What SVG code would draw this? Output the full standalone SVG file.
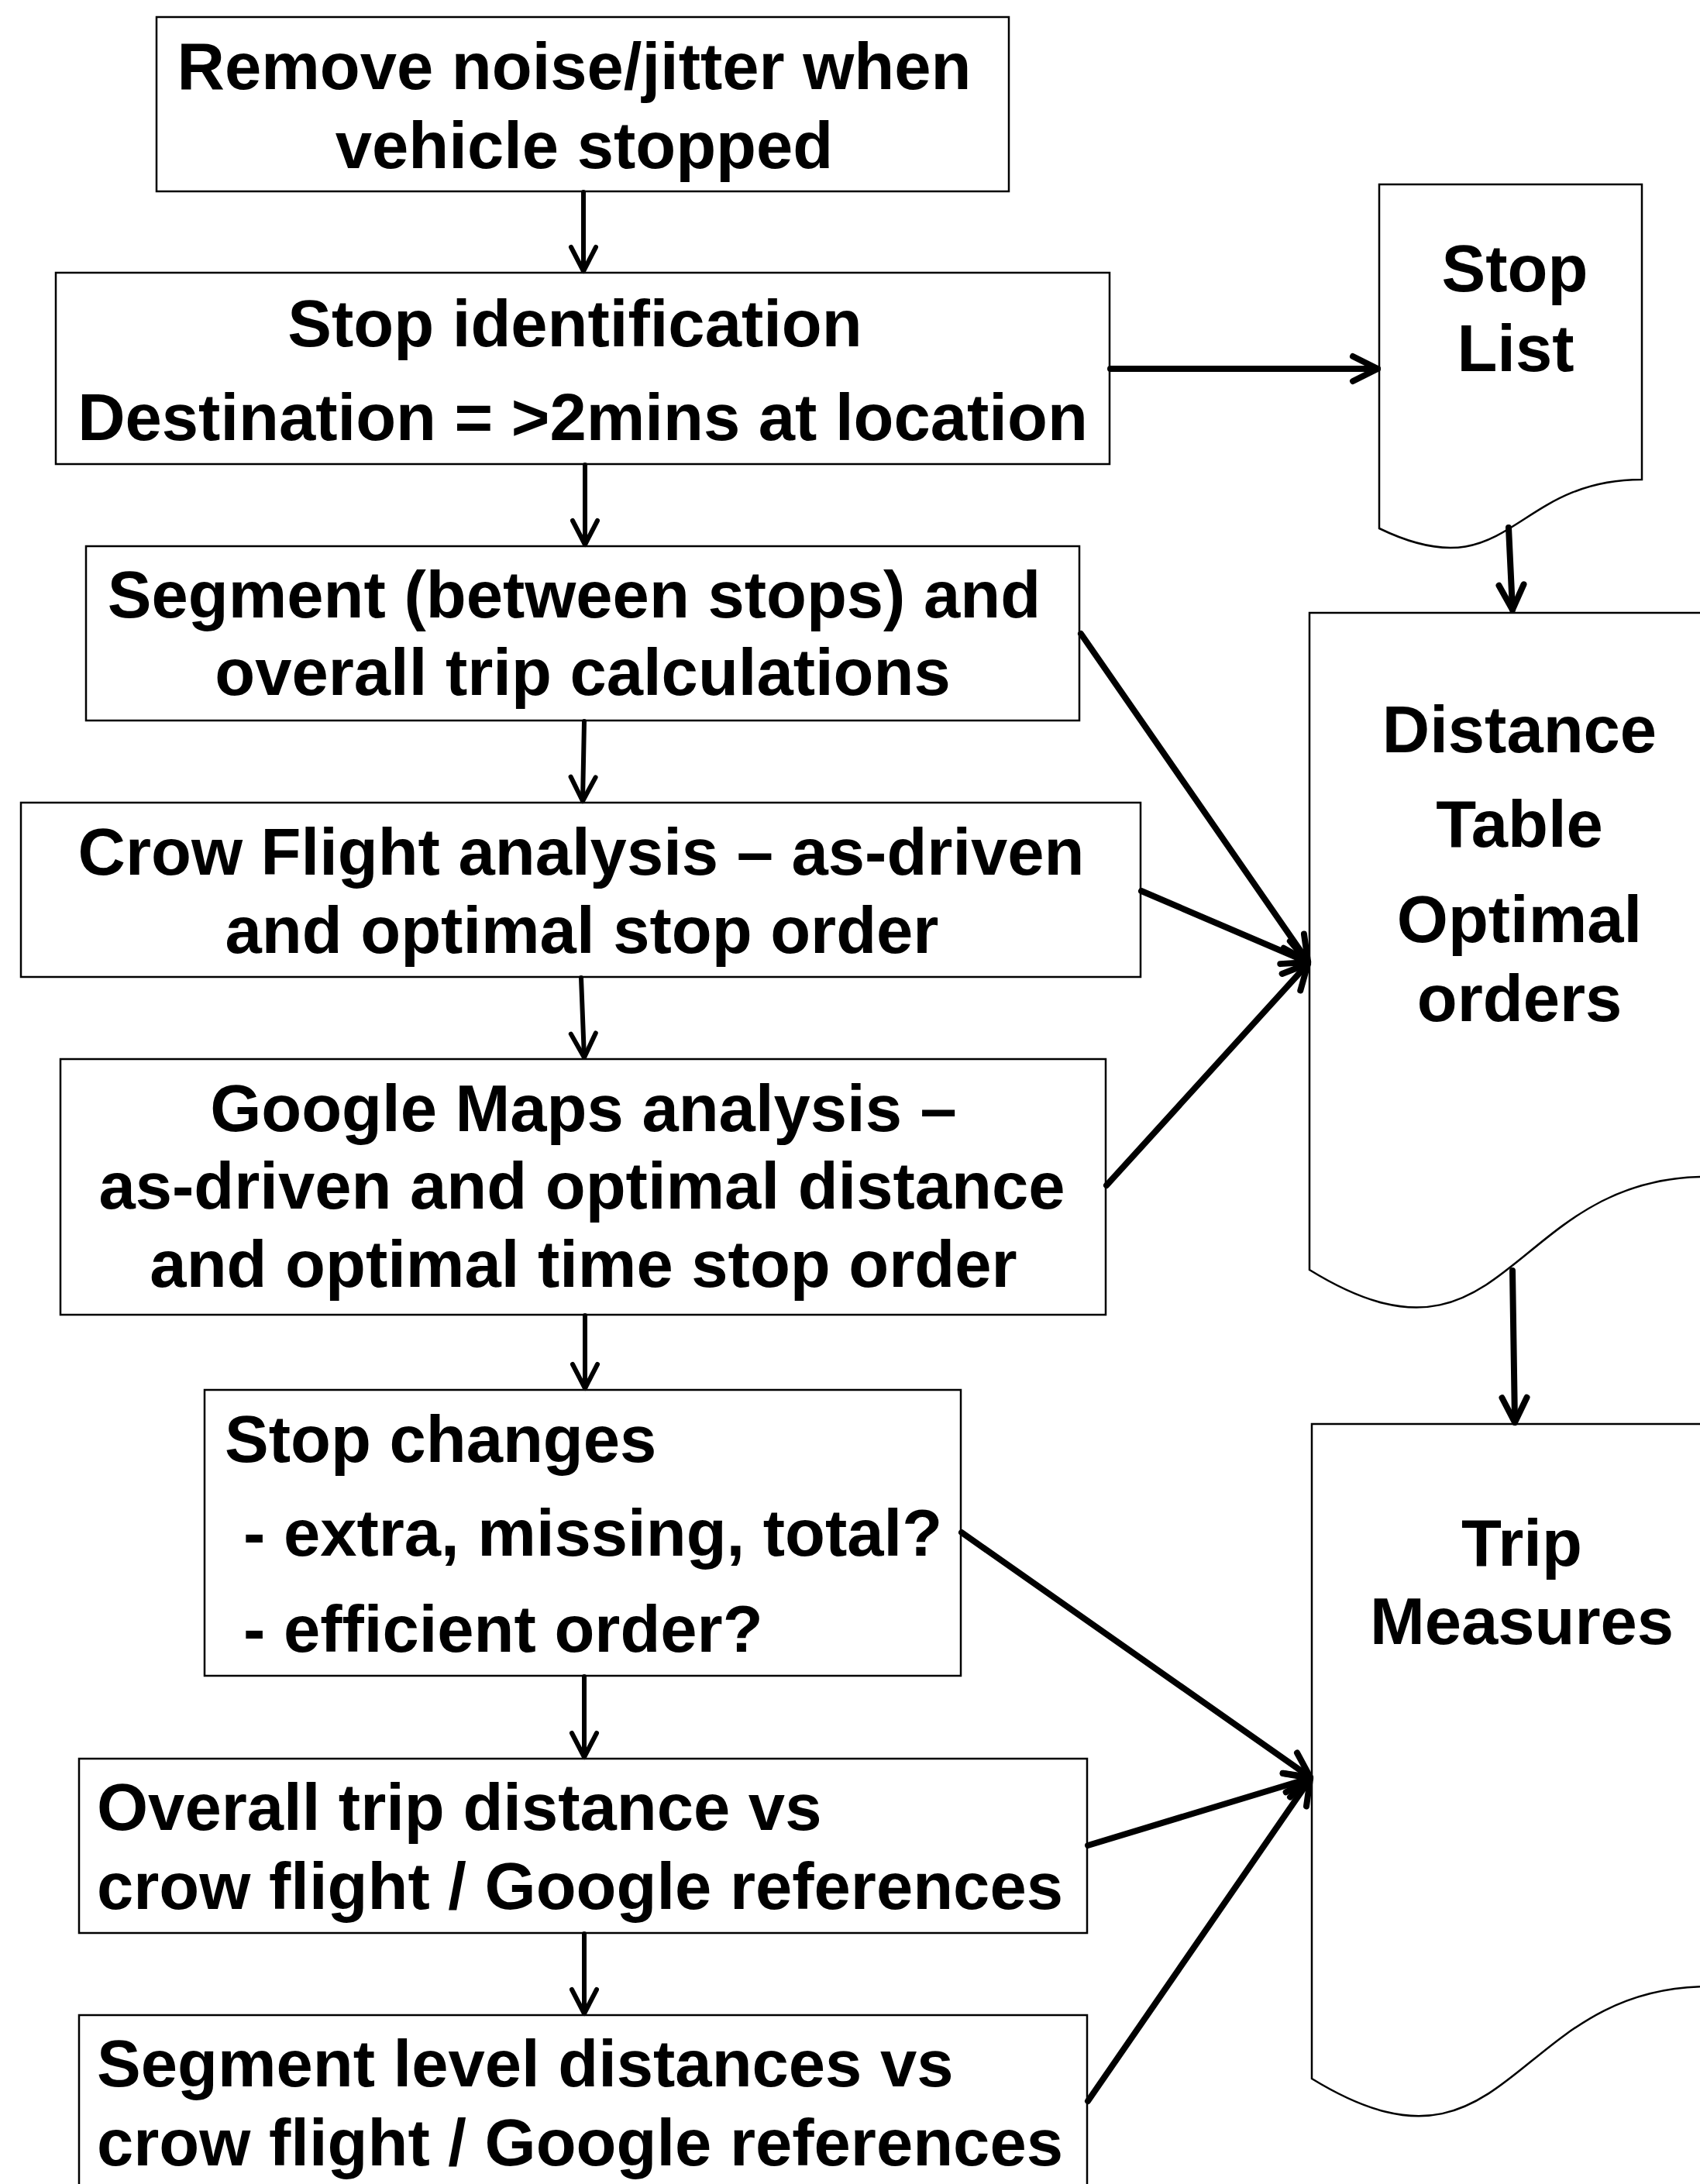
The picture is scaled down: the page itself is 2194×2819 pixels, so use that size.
<svg xmlns="http://www.w3.org/2000/svg" width="2194" height="2819" viewBox="0 0 2194 2819">
  <style>
    .box { fill: #fff; stroke: #000; stroke-width: 2.5; }
    .doc { fill: #fff; stroke: #000; stroke-width: 2.5; stroke-linejoin: miter; }
    .lbl { font-family: "Liberation Sans", Arial, sans-serif; font-weight: bold; font-size: 85px; fill: #000; }
    .mid { text-anchor: middle; }
    .flow { fill: none; stroke: #000; stroke-width: 6; stroke-linecap: round; }
    .feed { fill: none; stroke: #000; stroke-width: 8; stroke-linecap: round; }
  </style>
  <defs>
    <marker id="headThin" markerUnits="userSpaceOnUse" viewBox="-40 -24 48 48" refX="0" refY="0" markerWidth="48" markerHeight="48" orient="auto" overflow="visible">
      <path d="M-31,-16 L0,0 L-31,16" fill="none" stroke="#000" stroke-width="6" stroke-linecap="round" stroke-linejoin="round"/>
    </marker>
    <marker id="headThick" markerUnits="userSpaceOnUse" viewBox="-40 -24 48 48" refX="0" refY="0" markerWidth="48" markerHeight="48" orient="auto" overflow="visible">
      <path d="M-32,-16 L0,0 L-32,16" fill="none" stroke="#000" stroke-width="8" stroke-linecap="round" stroke-linejoin="round"/>
    </marker>
  </defs>

  <rect x="0" y="0" width="2194" height="2819" fill="#fff"/>

  <!-- process steps -->
  <g id="remove-noise">
    <rect class="box" x="202" y="22" width="1100" height="225"/>
    <text class="lbl mid" x="741" y="115">Remove noise/jitter when</text>
    <text class="lbl mid" x="754" y="217">vehicle stopped</text>
  </g>

  <g id="stop-identification">
    <rect class="box" x="72" y="352" width="1360" height="247"/>
    <text class="lbl mid" x="742" y="447">Stop identification</text>
    <text class="lbl mid" x="752" y="568">Destination = &gt;2mins at location</text>
  </g>

  <g id="segment-calcs">
    <rect class="box" x="111" y="705" width="1282" height="225"/>
    <text class="lbl mid" x="741" y="797">Segment (between stops) and</text>
    <text class="lbl mid" x="752" y="897">overall trip calculations</text>
  </g>

  <g id="crow-flight">
    <rect class="box" x="27" y="1036" width="1445" height="225"/>
    <text class="lbl mid" x="750" y="1129">Crow Flight analysis – as-driven</text>
    <text class="lbl mid" x="751" y="1230">and optimal stop order</text>
  </g>

  <g id="google-maps">
    <rect class="box" x="78" y="1367" width="1349" height="330"/>
    <text class="lbl mid" x="753" y="1460">Google Maps analysis –</text>
    <text class="lbl mid" x="751" y="1560">as-driven and optimal distance</text>
    <text class="lbl mid" x="753" y="1661">and optimal time stop order</text>
  </g>

  <g id="stop-changes">
    <rect class="box" x="264" y="1794" width="976" height="369"/>
    <text class="lbl" x="290" y="1887">Stop changes</text>
    <text class="lbl" x="314" y="2008">- extra, missing, total?</text>
    <text class="lbl" x="314" y="2132">- efficient order?</text>
  </g>

  <g id="overall-distance">
    <rect class="box" x="102" y="2270" width="1301" height="225"/>
    <text class="lbl" x="125" y="2362">Overall trip distance vs</text>
    <text class="lbl" x="125" y="2464">crow flight / Google references</text>
  </g>

  <g id="segment-distances">
    <rect class="box" x="102" y="2601" width="1301" height="260"/>
    <text class="lbl" x="125" y="2693">Segment level distances vs</text>
    <text class="lbl" x="125" y="2795">crow flight / Google references</text>
  </g>

  <!-- output documents -->
  <g id="stop-list">
    <path class="doc" d="M1780,238 H2119 V619 C1949.5,619 1949.5,764 1780,682 Z"/>
    <text class="lbl mid" x="1955" y="376">Stop</text>
    <text class="lbl mid" x="1956" y="479">List</text>
  </g>

  <g id="distance-table">
    <path class="doc" d="M1690,791 H2202 V1519 C1946,1519 1946,1797 1690,1639 Z"/>
    <text class="lbl mid" x="1961" y="971">Distance</text>
    <text class="lbl mid" x="1961" y="1093">Table</text>
    <text class="lbl mid" x="1961" y="1216">Optimal</text>
    <text class="lbl mid" x="1961" y="1318">orders</text>
  </g>

  <g id="trip-measures">
    <path class="doc" d="M1693,1838 H2205 V2564 C1949,2564 1949,2840 1693,2683 Z"/>
    <text class="lbl mid" x="1964" y="2021">Trip</text>
    <text class="lbl mid" x="1964" y="2122">Measures</text>
  </g>

  <!-- connectors -->
  <g id="connectors">
    <line class="flow" x1="753" y1="248" x2="753" y2="350" marker-end="url(#headThin)"/>
    <line class="flow" x1="755" y1="600" x2="755" y2="703" marker-end="url(#headThin)"/>
    <line class="flow" x1="754" y1="931" x2="752" y2="1034" marker-end="url(#headThin)"/>
    <line class="flow" x1="750" y1="1262" x2="754" y2="1365" marker-end="url(#headThin)"/>
    <line class="flow" x1="755" y1="1698" x2="755" y2="1792" marker-end="url(#headThin)"/>
    <line class="flow" x1="754" y1="2164" x2="754" y2="2268" marker-end="url(#headThin)"/>
    <line class="flow" x1="754" y1="2496" x2="754" y2="2599" marker-end="url(#headThin)"/>

    <line class="feed" x1="1433" y1="476" x2="1778" y2="476" marker-end="url(#headThick)"/>
    <line class="feed" x1="1947" y1="681" x2="1952" y2="787" marker-end="url(#headThick)"/>
    <line class="feed" x1="1952" y1="1640" x2="1955" y2="1836" marker-end="url(#headThick)"/>

    <line class="feed" x1="1395" y1="818" x2="1688" y2="1241" marker-end="url(#headThick)"/>
    <line class="feed" x1="1473" y1="1150" x2="1688" y2="1242" marker-end="url(#headThick)"/>
    <line class="feed" x1="1428" y1="1530" x2="1688" y2="1244" marker-end="url(#headThick)"/>

    <line class="feed" x1="1241" y1="1978" x2="1691" y2="2294" marker-end="url(#headThick)"/>
    <line class="feed" x1="1404" y1="2382" x2="1691" y2="2295" marker-end="url(#headThick)"/>
    <line class="feed" x1="1404" y1="2712" x2="1691" y2="2296" marker-end="url(#headThick)"/>
  </g>
</svg>
